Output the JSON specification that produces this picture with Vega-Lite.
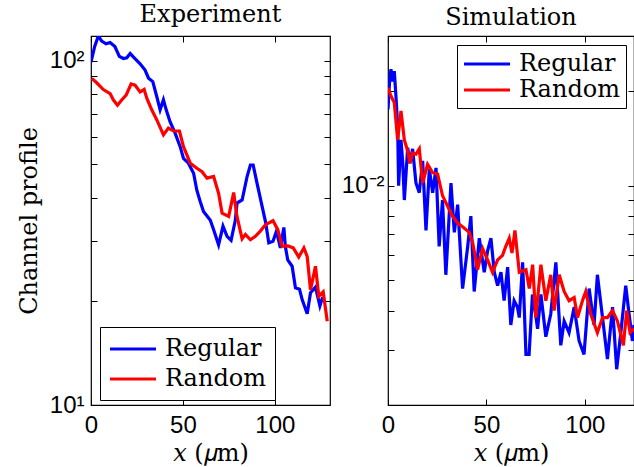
{
  "$schema": "https://vega.github.io/schema/vega-lite/v6.json",
  "padding": {"left": 16, "top": 2, "right": 0, "bottom": 0},
  "spacing": 8,
  "background": "white",
  "config": {
    "view": {"stroke": "black", "strokeWidth": 1.2},
    "axis": {
      "labelFont": "Liberation Sans", "labelFontSize": 24, "labelColor": "black",
      "tickColor": "black", "tickSize": -6, "tickWidth": 1, "domain": false, "grid": false,
      "titleFont": "DejaVu Serif", "titleFontSize": 24, "titleFontWeight": "normal", "titleColor": "black",
      "labelFlush": false
    },
    "title": {"font": "DejaVu Serif", "fontSize": 24, "fontWeight": "normal", "color": "black", "offset": 6},
    "legend": {
      "symbolType": "M-2,0H2", "symbolStrokeWidth": 3, "symbolSize": 529, "symbolOffset": 11,
      "labelFont": "DejaVu Serif", "labelFontSize": 24, "labelColor": "black",
      "strokeColor": "black", "fillColor": "white", "labelOffset": 19
    }
  },
  "datasets": {
    "exp": [
      {"x": 0, "y": 99, "s": "Regular"}, {"x": 2, "y": 110, "s": "Regular"}, {"x": 4, "y": 118, "s": "Regular"},
      {"x": 5.8, "y": 114, "s": "Regular"}, {"x": 8.2, "y": 112, "s": "Regular"}, {"x": 10.4, "y": 113, "s": "Regular"},
      {"x": 13, "y": 110, "s": "Regular"}, {"x": 15.4, "y": 103, "s": "Regular"}, {"x": 17.6, "y": 101.5, "s": "Regular"},
      {"x": 19.5, "y": 102, "s": "Regular"}, {"x": 21.3, "y": 105, "s": "Regular"}, {"x": 23, "y": 102.6, "s": "Regular"},
      {"x": 26.7, "y": 98, "s": "Regular"}, {"x": 29.4, "y": 94, "s": "Regular"}, {"x": 31.3, "y": 89, "s": "Regular"},
      {"x": 33.6, "y": 87, "s": "Regular"}, {"x": 35.8, "y": 78.6, "s": "Regular"}, {"x": 37.6, "y": 72, "s": "Regular"},
      {"x": 39.4, "y": 77, "s": "Regular"}, {"x": 40.9, "y": 72, "s": "Regular"}, {"x": 43, "y": 66.5, "s": "Regular"},
      {"x": 45.8, "y": 61.5, "s": "Regular"}, {"x": 48.5, "y": 56.3, "s": "Regular"}, {"x": 50.3, "y": 52, "s": "Regular"},
      {"x": 53, "y": 50.4, "s": "Regular"}, {"x": 55.8, "y": 47.1, "s": "Regular"}, {"x": 57.6, "y": 42, "s": "Regular"},
      {"x": 59.4, "y": 39, "s": "Regular"}, {"x": 61.2, "y": 36.5, "s": "Regular"}, {"x": 64.9, "y": 34.4, "s": "Regular"},
      {"x": 66.7, "y": 32.3, "s": "Regular"}, {"x": 69.4, "y": 29.2, "s": "Regular"}, {"x": 71.8, "y": 33.1, "s": "Regular"},
      {"x": 74, "y": 30.9, "s": "Regular"}, {"x": 76.2, "y": 30.1, "s": "Regular"}, {"x": 78.5, "y": 34.4, "s": "Regular"},
      {"x": 79.4, "y": 38.6, "s": "Regular"}, {"x": 82.2, "y": 39.4, "s": "Regular"}, {"x": 84.9, "y": 46.1, "s": "Regular"},
      {"x": 86.7, "y": 49.8, "s": "Regular"}, {"x": 88.2, "y": 49.8, "s": "Regular"}, {"x": 90.3, "y": 44.1, "s": "Regular"},
      {"x": 93.1, "y": 37.7, "s": "Regular"}, {"x": 94.9, "y": 34.1, "s": "Regular"}, {"x": 96.7, "y": 29.6, "s": "Regular"},
      {"x": 99, "y": 29.9, "s": "Regular"}, {"x": 100.9, "y": 32, "s": "Regular"}, {"x": 103, "y": 28.6, "s": "Regular"},
      {"x": 104.9, "y": 32.8, "s": "Regular"}, {"x": 105.7, "y": 28.9, "s": "Regular"}, {"x": 107, "y": 26.4, "s": "Regular"},
      {"x": 109.4, "y": 25.3, "s": "Regular"}, {"x": 111.2, "y": 21.9, "s": "Regular"}, {"x": 113.4, "y": 21.7, "s": "Regular"},
      {"x": 114.9, "y": 20.2, "s": "Regular"}, {"x": 117.6, "y": 18.4, "s": "Regular"}, {"x": 119.4, "y": 21.2, "s": "Regular"},
      {"x": 122.1, "y": 22, "s": "Regular"}, {"x": 124.5, "y": 19.4, "s": "Regular"}, {"x": 126, "y": 20.6, "s": "Regular"},
      {"x": 0.4, "y": 88.9, "s": "Random"}, {"x": 3.1, "y": 86.3, "s": "Random"}, {"x": 6.7, "y": 82.5, "s": "Random"},
      {"x": 10.4, "y": 80.3, "s": "Random"}, {"x": 12.2, "y": 76.9, "s": "Random"}, {"x": 14.4, "y": 74.3, "s": "Random"},
      {"x": 16.7, "y": 76.9, "s": "Random"}, {"x": 19.1, "y": 79.5, "s": "Random"}, {"x": 21.8, "y": 85.6, "s": "Random"},
      {"x": 24, "y": 84.9, "s": "Random"}, {"x": 26.7, "y": 81.2, "s": "Random"}, {"x": 28.9, "y": 82.5, "s": "Random"},
      {"x": 30.4, "y": 77.7, "s": "Random"}, {"x": 33.1, "y": 71.9, "s": "Random"}, {"x": 35.8, "y": 67.3, "s": "Random"},
      {"x": 39.4, "y": 60.9, "s": "Random"}, {"x": 42.1, "y": 63.7, "s": "Random"}, {"x": 44.9, "y": 62.5, "s": "Random"},
      {"x": 48.1, "y": 62.5, "s": "Random"}, {"x": 50.3, "y": 56.3, "s": "Random"}, {"x": 54, "y": 50.4, "s": "Random"},
      {"x": 57.6, "y": 48.7, "s": "Random"}, {"x": 60.4, "y": 47.6, "s": "Random"}, {"x": 63.1, "y": 45.6, "s": "Random"},
      {"x": 66.7, "y": 46.1, "s": "Random"}, {"x": 69.4, "y": 41.2, "s": "Random"}, {"x": 71.3, "y": 36.1, "s": "Random"},
      {"x": 74.9, "y": 35.3, "s": "Random"}, {"x": 77.6, "y": 41.4, "s": "Random"}, {"x": 79.4, "y": 35.3, "s": "Random"},
      {"x": 82.2, "y": 30.4, "s": "Random"}, {"x": 84, "y": 31.3, "s": "Random"}, {"x": 86.7, "y": 30.2, "s": "Random"},
      {"x": 89.4, "y": 30.9, "s": "Random"}, {"x": 92.1, "y": 32, "s": "Random"}, {"x": 94.9, "y": 33.4, "s": "Random"},
      {"x": 99, "y": 34.3, "s": "Random"}, {"x": 101.6, "y": 32.3, "s": "Random"}, {"x": 104, "y": 28.9, "s": "Random"},
      {"x": 107, "y": 29, "s": "Random"}, {"x": 110, "y": 28.6, "s": "Random"}, {"x": 113, "y": 26.9, "s": "Random"},
      {"x": 115.8, "y": 28.6, "s": "Random"}, {"x": 117.6, "y": 27, "s": "Random"}, {"x": 119.4, "y": 21.6, "s": "Random"},
      {"x": 122.1, "y": 25.3, "s": "Random"}, {"x": 123.9, "y": 20.7, "s": "Random"}, {"x": 126.3, "y": 21.3, "s": "Random"},
      {"x": 128.5, "y": 17.5, "s": "Random"}
    ],
    "sim": [
      {"x": 0, "y": 0.0175, "s": "Regular"}, {"x": 0.8, "y": 0.0215, "s": "Regular"}, {"x": 1.5, "y": 0.0235, "s": "Regular"},
      {"x": 2.4, "y": 0.0215, "s": "Regular"}, {"x": 3.2, "y": 0.0232, "s": "Regular"}, {"x": 4.1, "y": 0.019, "s": "Regular"},
      {"x": 4.9, "y": 0.0155, "s": "Regular"}, {"x": 5.4, "y": 0.01, "s": "Regular"}, {"x": 6.6, "y": 0.014, "s": "Regular"},
      {"x": 7.5, "y": 0.0118, "s": "Regular"}, {"x": 8.3, "y": 0.009, "s": "Regular"}, {"x": 10, "y": 0.0132, "s": "Regular"},
      {"x": 11.2, "y": 0.0118, "s": "Regular"}, {"x": 12.5, "y": 0.0131, "s": "Regular"}, {"x": 14.2, "y": 0.0102, "s": "Regular"},
      {"x": 15.9, "y": 0.0095, "s": "Regular"}, {"x": 17.6, "y": 0.012, "s": "Regular"}, {"x": 19.3, "y": 0.0072, "s": "Regular"},
      {"x": 21, "y": 0.0113, "s": "Regular"}, {"x": 22.7, "y": 0.0095, "s": "Regular"}, {"x": 24.4, "y": 0.0114, "s": "Regular"},
      {"x": 26, "y": 0.0064, "s": "Regular"}, {"x": 27.7, "y": 0.009, "s": "Regular"}, {"x": 29.4, "y": 0.0052, "s": "Regular"},
      {"x": 32, "y": 0.0102, "s": "Regular"}, {"x": 33.7, "y": 0.0071, "s": "Regular"}, {"x": 35.4, "y": 0.0087, "s": "Regular"},
      {"x": 37.9, "y": 0.0047, "s": "Regular"}, {"x": 40.5, "y": 0.0064, "s": "Regular"}, {"x": 42.1, "y": 0.008, "s": "Regular"},
      {"x": 43.8, "y": 0.0046, "s": "Regular"}, {"x": 46.4, "y": 0.0068, "s": "Regular"}, {"x": 48.9, "y": 0.0053, "s": "Regular"},
      {"x": 50.6, "y": 0.0062, "s": "Regular"}, {"x": 52.3, "y": 0.0068, "s": "Regular"}, {"x": 54, "y": 0.0053, "s": "Regular"},
      {"x": 55.7, "y": 0.0048, "s": "Regular"}, {"x": 57.4, "y": 0.0053, "s": "Regular"}, {"x": 59, "y": 0.0043, "s": "Regular"},
      {"x": 60.8, "y": 0.0055, "s": "Regular"}, {"x": 62.4, "y": 0.0036, "s": "Regular"}, {"x": 64.1, "y": 0.0043, "s": "Regular"},
      {"x": 65.8, "y": 0.0041, "s": "Regular"}, {"x": 66.7, "y": 0.0038, "s": "Regular"}, {"x": 68.4, "y": 0.0057, "s": "Regular"},
      {"x": 70.1, "y": 0.0029, "s": "Regular"}, {"x": 71.7, "y": 0.0029, "s": "Regular"}, {"x": 73.4, "y": 0.0045, "s": "Regular"},
      {"x": 75, "y": 0.0039, "s": "Regular"}, {"x": 76, "y": 0.0035, "s": "Regular"}, {"x": 77.7, "y": 0.0045, "s": "Regular"},
      {"x": 80.2, "y": 0.0033, "s": "Regular"}, {"x": 82.7, "y": 0.0039, "s": "Regular"}, {"x": 85.3, "y": 0.0057, "s": "Regular"},
      {"x": 87.8, "y": 0.0031, "s": "Regular"}, {"x": 89.5, "y": 0.0037, "s": "Regular"}, {"x": 92, "y": 0.0034, "s": "Regular"},
      {"x": 94.6, "y": 0.0041, "s": "Regular"}, {"x": 97.1, "y": 0.0032, "s": "Regular"}, {"x": 99.6, "y": 0.0029, "s": "Regular"},
      {"x": 102.2, "y": 0.0047, "s": "Regular"}, {"x": 104.7, "y": 0.0036, "s": "Regular"}, {"x": 106.4, "y": 0.0052, "s": "Regular"},
      {"x": 109, "y": 0.0038, "s": "Regular"}, {"x": 111.5, "y": 0.0028, "s": "Regular"}, {"x": 114.1, "y": 0.0041, "s": "Regular"},
      {"x": 116.2, "y": 0.0026, "s": "Regular"}, {"x": 118.3, "y": 0.0034, "s": "Regular"}, {"x": 120.8, "y": 0.0048, "s": "Regular"},
      {"x": 122.5, "y": 0.0039, "s": "Regular"}, {"x": 124.2, "y": 0.0032, "s": "Regular"}, {"x": 125, "y": 0.0036, "s": "Regular"},
      {"x": 0, "y": 0.0205, "s": "Random"}, {"x": 1.5, "y": 0.0193, "s": "Random"}, {"x": 3.2, "y": 0.0184, "s": "Random"},
      {"x": 4.9, "y": 0.014, "s": "Random"}, {"x": 6.6, "y": 0.0173, "s": "Random"}, {"x": 8.3, "y": 0.014, "s": "Random"},
      {"x": 10, "y": 0.0129, "s": "Random"}, {"x": 11.2, "y": 0.0118, "s": "Random"}, {"x": 12.5, "y": 0.0127, "s": "Random"},
      {"x": 14.2, "y": 0.0126, "s": "Random"}, {"x": 15.9, "y": 0.0131, "s": "Random"}, {"x": 17.6, "y": 0.0102, "s": "Random"},
      {"x": 20.1, "y": 0.0117, "s": "Random"}, {"x": 22.7, "y": 0.011, "s": "Random"}, {"x": 25.2, "y": 0.0109, "s": "Random"},
      {"x": 27.7, "y": 0.0093, "s": "Random"}, {"x": 30.3, "y": 0.0086, "s": "Random"}, {"x": 32.8, "y": 0.008, "s": "Random"},
      {"x": 35.4, "y": 0.0076, "s": "Random"}, {"x": 37.9, "y": 0.0074, "s": "Random"}, {"x": 41.3, "y": 0.0071, "s": "Random"},
      {"x": 43, "y": 0.0066, "s": "Random"}, {"x": 45.5, "y": 0.0054, "s": "Random"}, {"x": 48.1, "y": 0.0063, "s": "Random"},
      {"x": 50.6, "y": 0.0058, "s": "Random"}, {"x": 53.1, "y": 0.0053, "s": "Random"}, {"x": 55.7, "y": 0.0058, "s": "Random"},
      {"x": 58.2, "y": 0.006, "s": "Random"}, {"x": 59.8, "y": 0.0064, "s": "Random"}, {"x": 61.6, "y": 0.0068, "s": "Random"},
      {"x": 63, "y": 0.0061, "s": "Random"}, {"x": 64.5, "y": 0.0072, "s": "Random"}, {"x": 66.7, "y": 0.0053, "s": "Random"},
      {"x": 70.1, "y": 0.0054, "s": "Random"}, {"x": 71.8, "y": 0.0047, "s": "Random"}, {"x": 73.5, "y": 0.0056, "s": "Random"},
      {"x": 75.1, "y": 0.0038, "s": "Random"}, {"x": 77.7, "y": 0.0056, "s": "Random"}, {"x": 80.2, "y": 0.0043, "s": "Random"},
      {"x": 82.7, "y": 0.0052, "s": "Random"}, {"x": 84.4, "y": 0.004, "s": "Random"}, {"x": 87, "y": 0.0052, "s": "Random"},
      {"x": 89.5, "y": 0.0046, "s": "Random"}, {"x": 92, "y": 0.0043, "s": "Random"}, {"x": 94.6, "y": 0.0044, "s": "Random"},
      {"x": 96.3, "y": 0.0038, "s": "Random"}, {"x": 98.8, "y": 0.0043, "s": "Random"}, {"x": 100.5, "y": 0.0046, "s": "Random"},
      {"x": 103, "y": 0.0039, "s": "Random"}, {"x": 106.4, "y": 0.0034, "s": "Random"}, {"x": 109, "y": 0.0038, "s": "Random"},
      {"x": 111.5, "y": 0.0038, "s": "Random"}, {"x": 114.1, "y": 0.004, "s": "Random"}, {"x": 116.6, "y": 0.0037, "s": "Random"},
      {"x": 119.6, "y": 0.0031, "s": "Random"}, {"x": 121.3, "y": 0.004, "s": "Random"}, {"x": 123, "y": 0.0034, "s": "Random"},
      {"x": 125, "y": 0.0035, "s": "Random"}
    ]
  },
  "resolve": {"legend": {"color": "independent"}},
  "hconcat": [
    {
      "width": 239, "height": 369,
      "title": {"text": "Experiment"},
      "data": {"name": "exp"},
      "layer": [
        {
          "mark": {"type": "line", "strokeWidth": 3.2, "clip": true},
          "encoding": {
            "x": {"field": "x", "type": "quantitative", "scale": {"domain": [0, 130], "nice": false, "zero": false},
                  "axis": {"values": [0, 50, 100], "title": "𝑥 (𝜇m)", "labelPadding": 14, "titlePadding": 4}},
            "y": {"field": "y", "type": "quantitative", "scale": {"type": "log", "domain": [10, 118], "nice": false},
                  "axis": {"values": [10, 20, 30, 40, 50, 60, 70, 80, 90, 100], "title": "Channel profile",
                           "labelExpr": "datum.value == 100 ? '10²' : (datum.value == 10 ? '10¹' : '')",
                           "labelPadding": 13, "titlePadding": 8}},
            "color": {"field": "s", "type": "nominal",
                      "scale": {"domain": ["Regular", "Random"], "range": ["#0000ff", "#ff0000"]},
                      "legend": {"title": null, "orient": "none", "legendX": 9, "legendY": 291, "padding": 9, "rowPadding": 5}}
          }
        },
        {
          "mark": {"type": "point", "opacity": 0},
          "encoding": {
            "x": {"field": "x", "type": "quantitative", "axis": {"orient": "top", "values": [0, 50, 100], "labels": false, "title": null}},
            "y": {"field": "y", "type": "quantitative", "axis": {"orient": "right", "values": [10, 20, 30, 40, 50, 60, 70, 80, 90, 100], "labels": false, "title": null}}
          }
        }
      ],
      "resolve": {"axis": {"x": "independent", "y": "independent"}}
    },
    {
      "width": 246, "height": 369,
      "title": {"text": "Simulation"},
      "data": {"name": "sim"},
      "layer": [
        {
          "mark": {"type": "line", "strokeWidth": 3.2, "clip": true},
          "encoding": {
            "x": {"field": "x", "type": "quantitative", "scale": {"domain": [0, 125], "nice": false, "zero": false},
                  "axis": {"values": [0, 50, 100], "title": "𝑥 (𝜇m)", "labelPadding": 14, "titlePadding": 4}},
            "y": {"field": "y", "type": "quantitative", "scale": {"type": "log", "domain": [0.002, 0.03], "nice": false},
                  "axis": {"values": [0.002, 0.003, 0.004, 0.005, 0.006, 0.007, 0.008, 0.009, 0.01, 0.02, 0.03], "title": null,
                           "labelExpr": "datum.value == 0.01 ? '10⁻²' : ''",
                           "labelPadding": 10}},
            "color": {"field": "s", "type": "nominal",
                      "scale": {"domain": ["Regular", "Random"], "range": ["#0000ff", "#ff0000"]},
                      "legend": {"title": null, "orient": "none", "legendX": 69, "legendY": 9, "padding": 6, "rowPadding": 1}}
          }
        },
        {
          "mark": {"type": "point", "opacity": 0},
          "encoding": {
            "x": {"field": "x", "type": "quantitative", "axis": {"orient": "top", "values": [0, 50, 100], "labels": false, "title": null}},
            "y": {"field": "y", "type": "quantitative", "axis": {"orient": "right", "values": [0.002, 0.003, 0.004, 0.005, 0.006, 0.007, 0.008, 0.009, 0.01, 0.02, 0.03], "labels": false, "title": null}}
          }
        }
      ],
      "resolve": {"axis": {"x": "independent", "y": "independent"}}
    }
  ]
}
